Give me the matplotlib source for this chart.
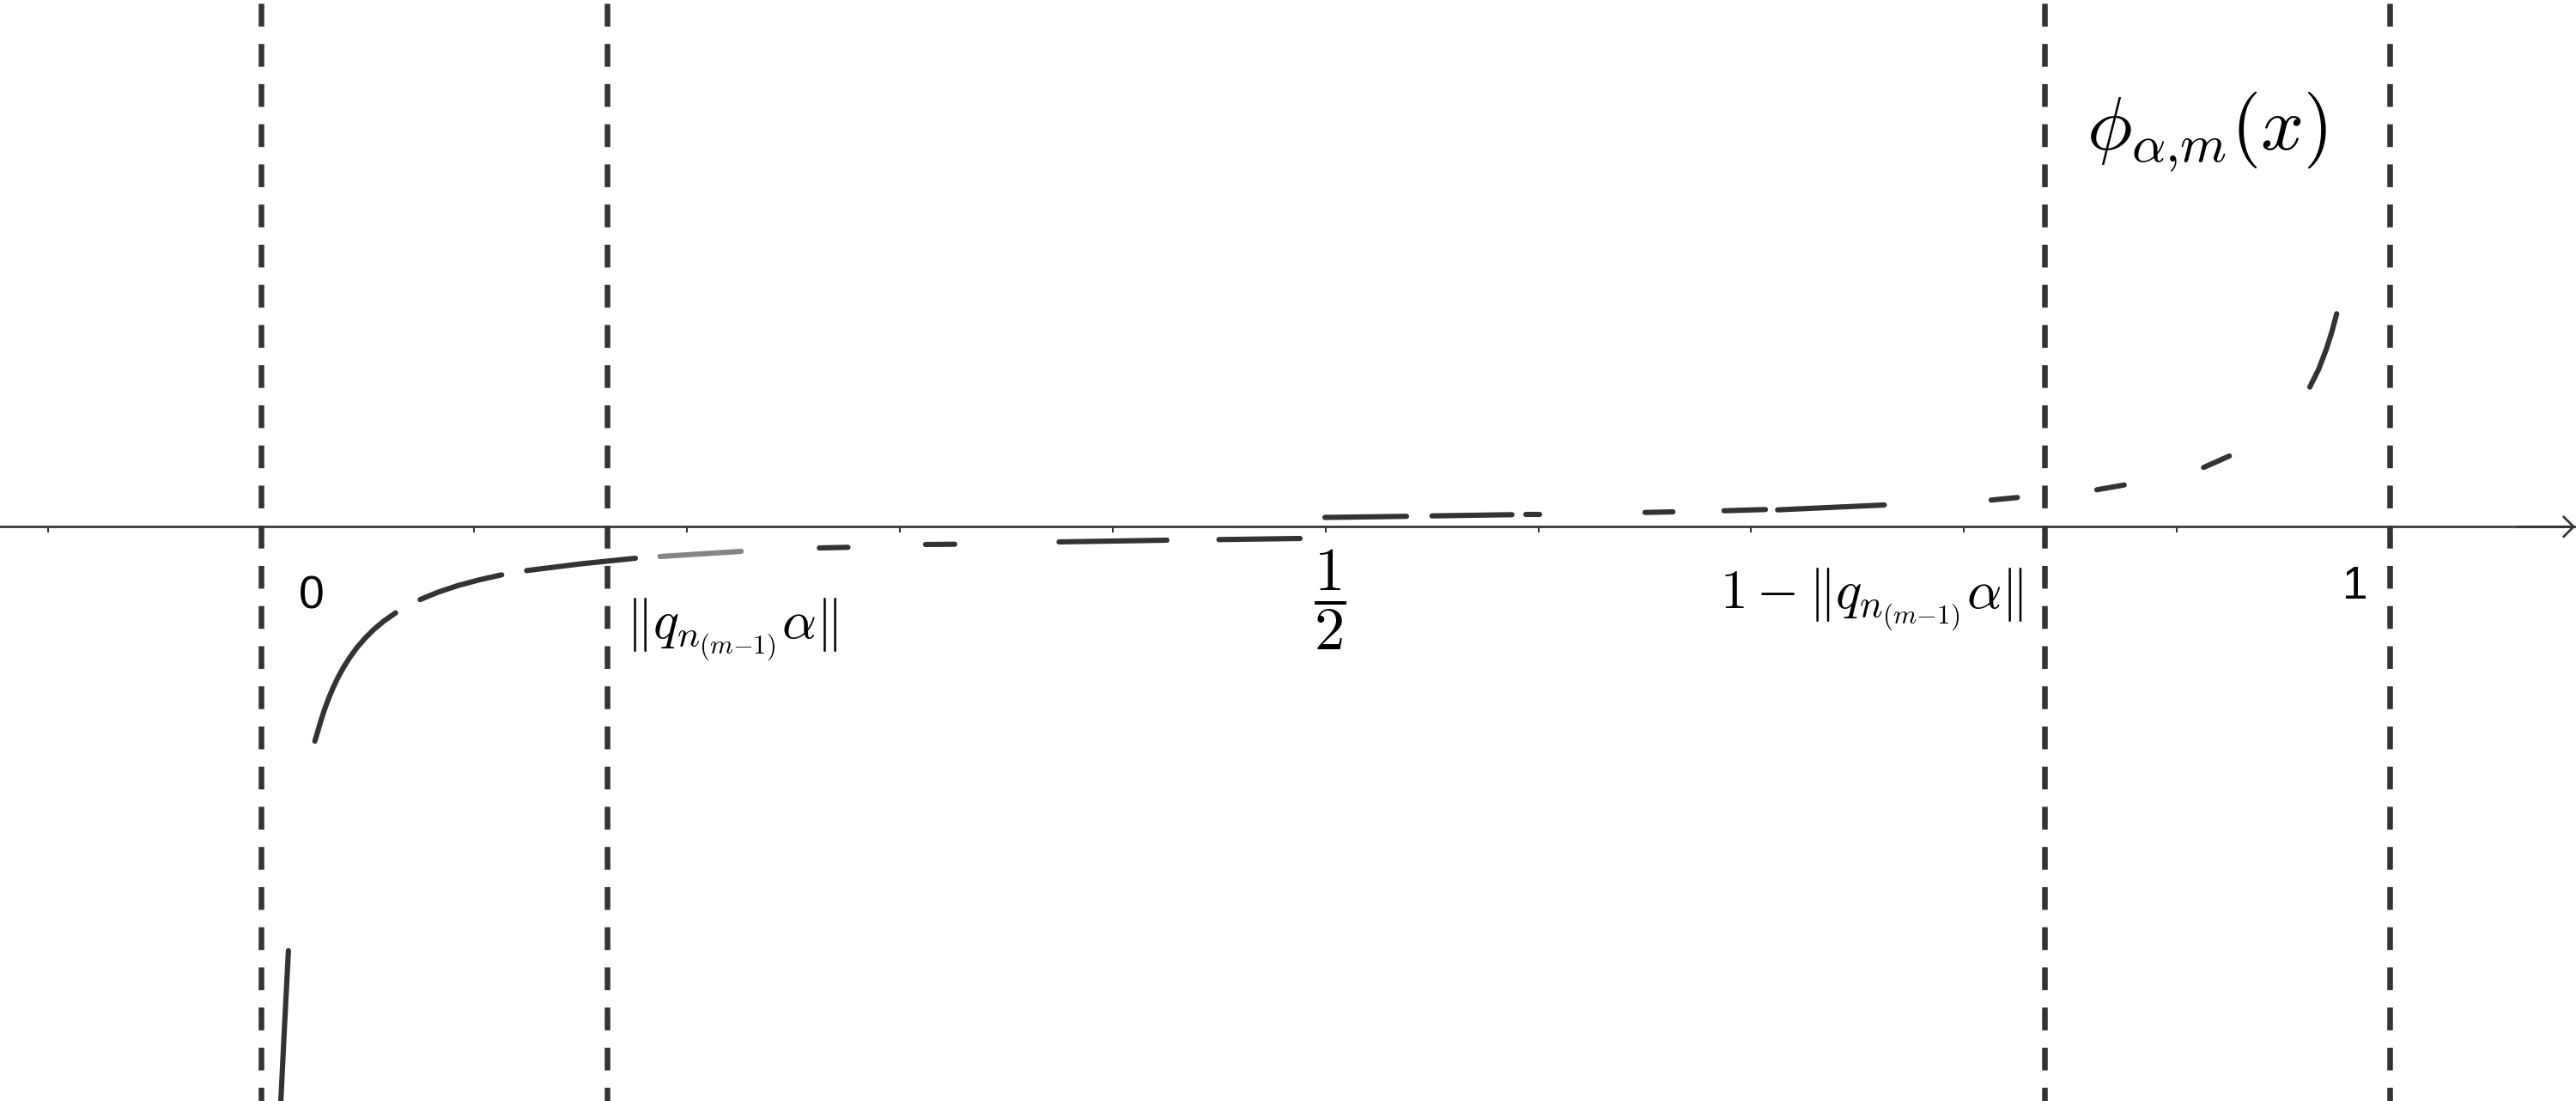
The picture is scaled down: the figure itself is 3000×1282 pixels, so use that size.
import numpy as np
import matplotlib
matplotlib.use("Agg")
import matplotlib.pyplot as plt

plt.rcParams['mathtext.fontset'] = 'cm'
plt.rcParams['lines.scale_dashes'] = False

# ---------------- data ----------------
# curve pieces of phi_{alpha,m}(x): x and y values of each visible piece
seg_x = [
    [0.01279, 0.01093, 0.00887],
    [0.02521, 0.02654, 0.02816, 0.02977, 0.03179, 0.03380, 0.03622,
     0.03864, 0.04187, 0.04510, 0.04873, 0.05276, 0.05760, 0.06313],
    [0.07467, 0.08302, 0.09230, 0.10238, 0.11299],
    [0.12469, 0.15026, 0.17580],
    [0.18733, 0.22549],
    [0.26220, 0.27563],
    [0.31210, 0.32582],
    [0.37483, 0.42549],
    [0.44994, 0.48802],
    [0.49972, 0.53804],
    [0.55002, 0.58758],
    [0.59403, 0.60045],
    [0.65010, 0.66321],
    [0.68717, 0.70669],
    [0.71238, 0.76252],
    [0.81271, 0.82505],
    [0.86236, 0.87523],
    [0.91250, 0.92461],
    [0.96241, 0.96656, 0.97015, 0.97273, 0.97503],
]
seg_y = [
    [-0.19915, -0.23505, -0.27700],
    [-0.10073, -0.09625, -0.09072, -0.08580, -0.08036, -0.07560, -0.07051,
     -0.06612, -0.06103, -0.05664, -0.05244, -0.04841, -0.04433, -0.04046],
    [-0.03421, -0.03078, -0.02767, -0.02497, -0.02259],
    [-0.02061, -0.01743, -0.01480],
    [-0.01400, -0.01158],
    [-0.00996, -0.00968],
    [-0.00835, -0.00823],
    [-0.00714, -0.00633],
    [-0.00605, -0.00553],
    [0.00436, 0.00488],
    [0.00508, 0.00565],
    [0.00565, 0.00565],
    [0.00670, 0.00698],
    [0.00750, 0.00807],
    [0.00791, 0.01021],
    [0.01251, 0.01372],
    [0.01735, 0.01960],
    [0.02783, 0.03320],
    [0.06559, 0.07394, 0.08334, 0.09141, 0.10004],
]
seg_gray = [False, False, False, False, True, False, False, False, False,
            False, False, False, False, False, False, False, False, False, False]

# vertical reference lines: 0, ||q a||, 1-||q a||, 1
guide_x = [0.0, 0.1624, 0.8376, 1.0]

# x-axis ticks
tick_x = [-0.1, 0.0, 0.1, 0.2, 0.3, 0.4, 0.5, 0.6, 0.7, 0.8, 0.9, 1.0]

# labels
plain_labels = ["0", "1"]
plain_label_x = [0.02350, 0.98358]
plain_label_y = [-0.03860, -0.03388]

norm_label = r"$\Vert q_{n_{(m{-}1)}}\alpha\Vert$"
one_minus_label = r"$1-\Vert q_{n_{(m{-}1)}}\alpha\Vert$"
half_label = r"$\dfrac{1}{2}$"
func_label = r"$\phi_{\alpha{,}m}(x)$"

# ---------------- figure ----------------
DARK = "#333333"
GRAY = "#858585"

fig = plt.figure(figsize=(15, 6.41), dpi=200)
ax = fig.add_axes([0, 0, 1, 1])
ax.set_xlim(-0.12271, 1.08746)
ax.set_ylim(-0.26975, 0.24740)
ax.set_facecolor("white")

for s in ["top", "left", "right"]:
    ax.spines[s].set_visible(False)
ax.spines["bottom"].set_position(("data", 0))
ax.spines["bottom"].set_color(DARK)
ax.spines["bottom"].set_linewidth(0.97)
ax.set_yticks([])
ax.set_xticks(tick_x)
ax.set_xticklabels([])
ax.tick_params(axis="x", direction="out", length=2.6, width=0.72, color=DARK)

# arrow head at right end of the axis
ax.annotate("", xy=(1.0871, 0), xytext=(1.06, 0),
            arrowprops=dict(arrowstyle="->,head_length=0.42,head_width=0.42",
                            lw=0.97, color=DARK, shrinkA=0, shrinkB=0,
                            mutation_scale=10),
            annotation_clip=False)

# dashed guides
for gx in guide_x:
    ax.axvline(gx, color=DARK, lw=2.35, ls=(3.85, (9.54, 7.29)),
               dash_capstyle="butt", zorder=2)

# curve pieces
for xs, ys, g in zip(seg_x, seg_y, seg_gray):
    ax.plot(xs, ys, color=GRAY if g else DARK, lw=2.2,
            solid_capstyle="round", solid_joinstyle="round", zorder=3)

# labels
for t, lx, ly in zip(plain_labels, plain_label_x, plain_label_y):
    ax.text(lx, ly, t, ha="center", va="baseline", fontsize=19.2,
            family="Liberation Sans", color="black")

ax.text(0.1712, -0.05252, norm_label, ha="left", va="baseline",
        fontsize=22.5, color="black")
ax.text(0.6852, -0.03820, one_minus_label, ha="left", va="baseline",
        fontsize=22.8, color="black")
ax.text(0.50214, -0.03451, half_label, ha="center", va="center",
        fontsize=25.5, color="black")
ax.text(0.8575, 0.17761, func_label, ha="left", va="baseline",
        fontsize=31.7, color="black")

fig.savefig("out.png", dpi=200, facecolor="white")
